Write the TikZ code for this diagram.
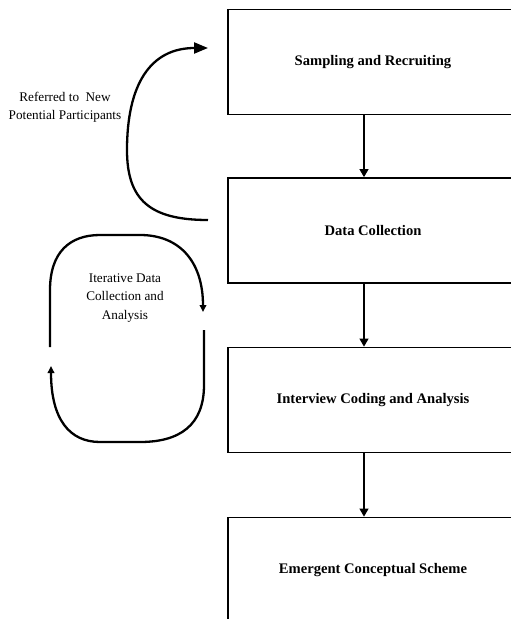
\documentclass[tikz,border=0pt]{standalone}
\usepackage{fontspec}
\setmainfont{Liberation Serif}
\usetikzlibrary{arrows.meta}
\begin{document}
\begin{tikzpicture}[x=1pt,y=-1pt,
  stage/.style={draw, line width=1.8pt, minimum width=290pt, minimum height=105pt,
    inner sep=0pt, font=\fontsize{14.6}{17}\selectfont\bfseries},
  flow/.style={line width=1.2pt, -{Triangle[length=8pt,width=9pt]}},
  loop/.style={line width=2.3pt, -{Triangle[length=7pt,width=6.5pt]}},
  bigloop/.style={line width=2.3pt, -{Triangle[length=14pt,width=11pt]}},
  note/.style={align=center, font=\fontsize{13.2}{18.2}\selectfont}]
\useasboundingbox (0,0) rectangle (511,619);
\begin{scope}
\clip (0,0) rectangle (511,619);
% process stages
\node[stage] (b1) at (373,62) {Sampling and Recruiting};
\node[stage] (b2) at (373,230.5) {Data Collection};
\node[stage] (b3) at (373,400) {Interview Coding and Analysis};
\node[stage] (b4) at (373,570) {Emergent Conceptual Scheme};
\end{scope}
% downward flow between stages
\draw[flow] ([xshift=-9pt]b1.south) -- ([xshift=-9pt]b2.north);
\draw[flow] ([xshift=-9pt]b2.south) -- ([xshift=-9pt]b3.north);
\draw[flow] ([xshift=-9pt]b3.south) -- ([xshift=-9pt]b4.north);
% referral loop back to recruiting
\coordinate (r0) at (208,220);
\coordinate (r1) at (208,48);
\draw[bigloop] (r0) .. controls (150,220) and (127,200) .. (127,150)
  .. controls (127,85) and (150,48) .. (r1);
\node[note] (lab1) at (65,107) {Referred to\ \ New\\Potential Participants};
% iterative loop
\coordinate (a0) at (50,347);
\coordinate (a1) at (203,312);
\draw[loop] (a0) -- (50,290) .. controls (50,252) and (70,235) .. (100,235)
  -- (140,235) .. controls (180,235) and (203,262) .. (a1);
\coordinate (c0) at (204,330);
\coordinate (c1) at (51,366);
\draw[loop] (c0) -- (204,385) .. controls (204,425) and (180,442) .. (140,442)
  -- (100,442) .. controls (70,442) and (51,420) .. (c1);
\node[note] (lab2) at (125,298) {Iterative Data\\Collection and\\Analysis};
\end{tikzpicture}
\end{document}
